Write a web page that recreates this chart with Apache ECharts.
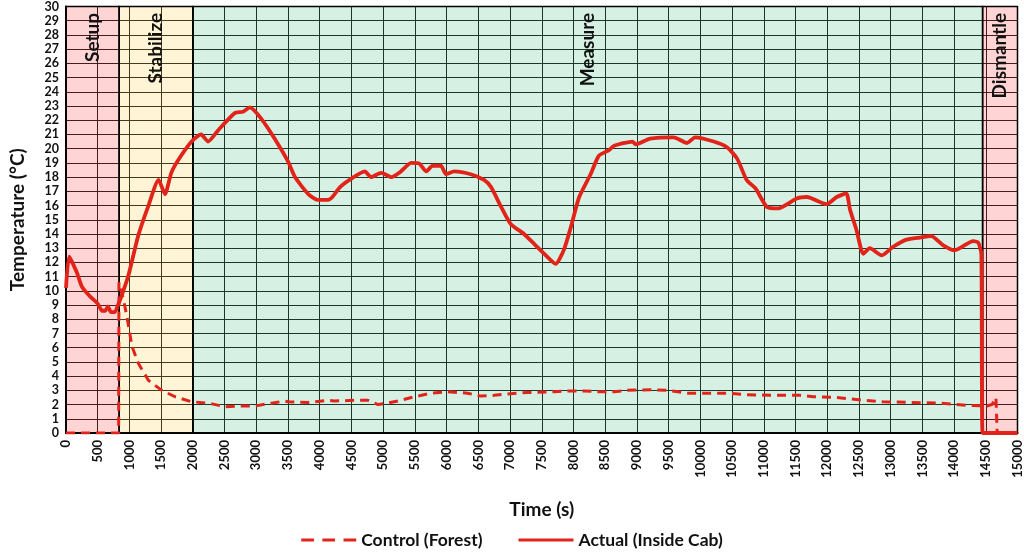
<!DOCTYPE html>
<html>
<head>
<meta charset="utf-8">
<title>Cab temperature test</title>
<script src="https://cdn.jsdelivr.net/npm/echarts@6/dist/echarts.min.js"></script>
<style>
  html, body { margin: 0; padding: 0; background: #ffffff; }
  #chart { width: 1024px; height: 555px; }
</style>
</head>
<body>
<div id="chart"></div>
<script>
// Test phases (seconds)
const phaseNames = ['Setup', 'Stabilize', 'Measure', 'Dismantle'];
const phaseStart = [0, 838, 2000, 14450];
const phaseEnd = [838, 2000, 14450, 15000];

// Actual (Inside Cab) temperature, °C
const actualTime = [0, 50, 170, 250, 380, 500, 570, 620, 660, 710, 770, 820, 880, 985, 1140, 1300, 1460, 1560, 1660, 1770,
  1980, 2130, 2240, 2400, 2660, 2790, 2900, 3080, 3290, 3500, 3610, 3820, 3970, 4130, 4200, 4320, 4500, 4710, 4810, 4970,
  5130, 5280, 5440, 5570, 5680, 5780, 5910, 5990, 6120, 6380, 6590, 6700, 6860, 7010, 7220, 7380, 7540, 7720, 7850, 7960,
  8090, 8270, 8400, 8560, 8640, 8930, 8980, 9210, 9580, 9790, 9920, 10210, 10420, 10580, 10730, 10870, 11050, 11230, 11520, 11680,
  11990, 12150, 12300, 12360, 12460, 12570, 12670, 12860, 13040, 13250, 13460, 13640, 13830, 14010, 14300, 14380, 14430, 14450, 15000];
const actualTemp = [10.2, 12.4, 11.3, 10.3, 9.6, 9.1, 8.6, 8.6, 8.9, 8.5, 8.5, 9.0, 9.7, 11.1, 13.9, 16.0, 17.8, 16.8, 18.3, 19.2,
  20.5, 21.0, 20.5, 21.3, 22.5, 22.6, 22.9, 22.1, 20.7, 19.1, 18.0, 16.8, 16.4, 16.4, 16.6, 17.3, 17.9, 18.4, 18.0, 18.3,
  18.0, 18.4, 19.0, 18.95, 18.4, 18.8, 18.8, 18.2, 18.4, 18.2, 17.8, 17.3, 15.9, 14.7, 14.0, 13.3, 12.6, 11.9, 12.9, 14.5,
  16.6, 18.2, 19.5, 19.9, 20.2, 20.5, 20.3, 20.7, 20.8, 20.4, 20.8, 20.5, 20.1, 19.3, 17.8, 17.2, 15.9, 15.8, 16.5, 16.6,
  16.1, 16.6, 16.85, 15.7, 14.3, 12.6, 13.0, 12.5, 13.1, 13.6, 13.75, 13.85, 13.2, 12.85, 13.5, 13.4, 12.6, 0, 0];

// Control (Forest) temperature, °C
const controlTime = [0, 830, 835, 910, 960, 1040, 1140, 1300, 1510, 1720, 1980, 2240, 2300, 2500, 2720, 2980, 3240, 3450, 3500, 3820,
  4130, 4230, 4550, 4760, 4920, 5070, 5280, 5490, 5760, 6020, 6330, 6540, 6750, 6960, 7280, 7700, 7850, 8170, 8430, 8640,
  8850, 9210, 9480, 9790, 10160, 10420, 10730, 11100, 11570, 11780, 12150, 12570, 12880, 13300, 13770, 14190, 14510, 14600, 14660, 14680, 15000];
const controlTemp = [0, 0, 10.6, 9.3, 8.2, 6.1, 4.9, 3.7, 3.0, 2.55, 2.2, 2.1, 2.05, 1.85, 1.9, 1.9, 2.1, 2.25, 2.2, 2.15,
  2.3, 2.25, 2.3, 2.3, 2.0, 2.1, 2.3, 2.55, 2.8, 2.9, 2.8, 2.6, 2.65, 2.75, 2.85, 2.9, 2.95, 2.95, 2.9, 2.9,
  3.0, 3.05, 3.0, 2.8, 2.8, 2.8, 2.7, 2.65, 2.65, 2.55, 2.5, 2.3, 2.2, 2.15, 2.1, 1.95, 1.9, 2.0, 2.5, 0, 0];

const FONT = 'Lato';
const RED = '#e2231a';
const phaseFill = ['rgba(255,0,0,0.17)', 'rgba(255,190,0,0.16)', 'rgba(0,170,80,0.16)', 'rgba(255,0,0,0.17)'];

// Legend keys: three short dashes, and one solid bar
const DASHED_ICON = 'path://M0,0h12v3h-12z M20,0h12v3h-12z M40,0h12v3h-12z';
const SOLID_ICON = 'path://M0,0h52v3h-52z';

const zip = (xs, ys) => xs.map((x, i) => [x, ys[i]]);

const chart = echarts.init(document.getElementById('chart'), null, { renderer: 'canvas' });

chart.setOption({
  animation: false,
  backgroundColor: '#ffffff',
  grid: { left: 64, right: 6, top: 6, bottom: 122 },
  xAxis: {
    type: 'value', min: 0, max: 15000, interval: 500,
    name: 'Time (s)', nameLocation: 'middle', nameGap: 67,
    nameTextStyle: { fontFamily: FONT, fontWeight: 'bold', fontSize: 19, color: '#111' },
    axisLine: { lineStyle: { color: '#000', width: 2 } },
    axisTick: { show: false },
    axisLabel: { rotate: 90, margin: 7, fontFamily: FONT, fontWeight: 'bold', fontSize: 13, color: '#111',
      formatter: v => String(v) },
    splitLine: { show: true, lineStyle: { color: '#222', width: 1 } }
  },
  yAxis: {
    type: 'value', min: 0, max: 30, interval: 1,
    name: 'Temperature (°C)', nameLocation: 'middle', nameGap: 39,
    nameTextStyle: { fontFamily: FONT, fontWeight: 'bold', fontSize: 19, color: '#111' },
    axisLine: { show: true, lineStyle: { color: '#000', width: 2 } },
    axisTick: { show: false },
    axisLabel: { margin: 7, fontFamily: FONT, fontWeight: 'bold', fontSize: 12.5, color: '#111' },
    splitLine: { show: true, lineStyle: { color: '#222', width: 1 } }
  },
  legend: {
    data: [
      { name: 'Control (Forest)', icon: DASHED_ICON },
      { name: 'Actual (Inside Cab)', icon: SOLID_ICON }
    ],
    bottom: 1, left: 'center',
    itemWidth: 55, itemHeight: 3.5, itemGap: 36,
    textStyle: { fontFamily: FONT, fontWeight: 'bold', fontSize: 17.5, color: '#111' }
  },
  series: [
    {
      name: 'Phases', type: 'line', data: [], silent: true,
      markArea: {
        silent: true,
        data: phaseNames.map((n, i) => [
          { xAxis: phaseStart[i], itemStyle: { color: phaseFill[i], borderColor: '#000', borderWidth: 1.5 } },
          { xAxis: phaseEnd[i] }
        ])
      }
    },
    {
      name: 'Control (Forest)', type: 'line', symbol: 'none', showSymbol: false, z: 5,
      data: zip(controlTime, controlTemp),
      lineStyle: { color: RED, width: 3, type: [9, 6] },
      itemStyle: { color: RED }
    },
    {
      name: 'Actual (Inside Cab)', type: 'line', symbol: 'none', showSymbol: false, z: 6,
      data: zip(actualTime, actualTemp),
      smooth: 0.2,
      lineStyle: { color: RED, width: 3.8 },
      itemStyle: { color: RED }
    }
  ]
});

// Phase names, written upright along the top of each band
chart.setOption({
  graphic: phaseNames.map((n, i) => {
    const p = chart.convertToPixel({ gridIndex: 0 }, [(phaseStart[i] + phaseEnd[i]) / 2, 29.55]);
    return {
      type: 'text', x: p[0], y: p[1], rotation: Math.PI / 2, z: 100, silent: true,
      style: {
        text: n, fill: '#111', font: 'bold 19px ' + FONT,
        align: 'right', verticalAlign: 'middle'
      }
    };
  })
});
</script>
</body>
</html>
